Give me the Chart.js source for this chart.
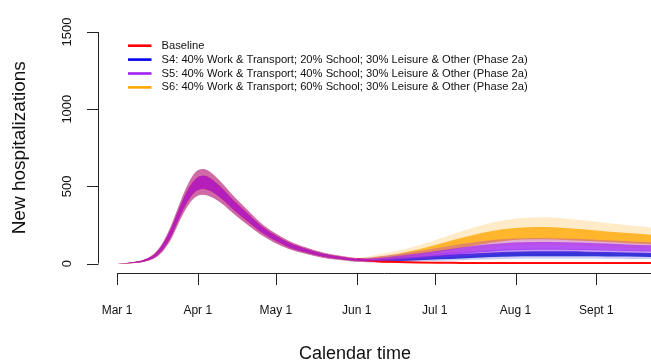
<!DOCTYPE html>
<html><head><meta charset="utf-8">
<script src="https://cdn.jsdelivr.net/npm/chart.js@4.4.1/dist/chart.umd.min.js"></script>
<style>html,body{margin:0;padding:0;background:#fff;} canvas{display:block;}</style>
</head><body>
<canvas id="c" width="651" height="363"></canvas>
<script>
// ---- labels ----
const scenarioNames = [
  "Baseline",
  "S4: 40% Work & Transport; 20% School; 30% Leisure & Other (Phase 2a)",
  "S5: 40% Work & Transport; 40% School; 30% Leisure & Other (Phase 2a)",
  "S6: 40% Work & Transport; 60% School; 30% Leisure & Other (Phase 2a)"
];
const xTickDays = [0, 31, 61, 92, 122, 153, 184, 214];
const xTickLabels = ["Mar 1", "Apr 1", "May 1", "Jun 1", "Jul 1", "Aug 1", "Sept 1", "Oct 1"];
const yTickValues = [0, 500, 1000, 1500];
const yTickLabels = ["0", "500", "1000", "1500"];
const xTitle = "Calendar time";
const yTitle = "New hospitalizations";

// ---- shared epidemic wave (days since Mar 1), ensemble envelope ----
const epiDays = [0, 4, 8, 12, 15, 18, 21, 24, 27, 30, 33, 36, 40, 45, 50, 55, 60, 66, 72, 79, 85, 92];
const epiLo = [0, 1, 5, 18, 40, 88, 165, 275, 370, 430, 445, 432, 392, 320, 253, 190, 140, 94, 65, 38, 24, 12];
const epiQ1 = [0, 2, 7, 22, 48, 100, 185, 300, 400, 465, 485, 470, 423, 345, 275, 208, 155, 106, 75, 46, 31, 18];
const epiQ3 = [0, 4, 13, 34, 68, 136, 235, 360, 470, 545, 568, 550, 493, 405, 325, 248, 189, 134, 97, 64, 45, 30];
const epiHi = [0, 5, 15, 38, 76, 148, 255, 385, 505, 590, 612, 590, 527, 432, 348, 266, 204, 146, 107, 72, 52, 36];

// ---- scenario tails after Phase 2a ----
const tailDays = [100, 108, 116, 124, 132, 140, 148, 156, 164, 172, 180, 188, 196, 205];

const baseLo = [6, 4, 2, 1, 1, 0, 0, 0, 0, 0, 0, 0, 0, 0];
const baseQ1 = [9, 6, 4, 3, 2, 1, 1, 1, 1, 1, 1, 1, 1, 1];
const baseQ3 = [15, 10, 7, 5, 4, 3, 3, 3, 3, 3, 3, 3, 3, 3];
const baseHi = [20, 14, 10, 8, 6, 5, 5, 5, 5, 5, 5, 5, 5, 5];

const s4Lo = [8, 11, 14, 18, 22, 26, 30, 32, 33, 33, 32, 31, 30, 29];
const s4Q1 = [13, 17, 22, 27, 33, 39, 44, 47, 48, 48, 47, 46, 45, 43];
const s4Q3 = [28, 36, 44, 53, 61, 68, 74, 78, 79, 79, 77, 75, 72, 69];
const s4Hi = [36, 46, 56, 66, 76, 85, 92, 96, 97, 96, 94, 91, 88, 84];

const s5Lo = [14, 20, 27, 36, 46, 56, 65, 70, 72, 72, 70, 68, 65, 62];
const s5Q1 = [20, 28, 38, 50, 62, 73, 83, 88, 90, 89, 87, 84, 81, 78];
const s5Q3 = [36, 50, 66, 85, 104, 120, 132, 138, 140, 138, 134, 129, 124, 118];
const s5Hi = [46, 62, 82, 104, 126, 145, 158, 163, 165, 162, 157, 151, 145, 138];

const s6Lo = [18, 26, 38, 55, 75, 95, 112, 122, 124, 120, 114, 108, 103, 98];
const s6Q1 = [26, 38, 54, 76, 100, 125, 145, 155, 157, 153, 146, 139, 132, 125];
const s6Q3 = [44, 64, 92, 128, 165, 198, 222, 234, 236, 230, 220, 208, 197, 186];
const s6Hi = [58, 84, 118, 162, 208, 248, 278, 295, 300, 292, 278, 262, 248, 234];

// ---- build ----
const allDays = epiDays.concat(tailDays);
function pts(a, b) { const v = a.concat(b); return allDays.map((d, i) => ({x: d, y: v[i]})); }

const colors = {
  red: [255, 0, 0], blue: [0, 0, 205], purple: [160, 32, 240], orange: [255, 165, 0]
};
const legendColors = ["#ff0000", "#0000ee", "#a020f0", "#ffa500"];
function rgba(c, a) { return `rgba(${c[0]},${c[1]},${c[2]},${a})`; }

// rank 0 = drawn on top
const scenarios = [
  {c: colors.red,    rank: 1, lo: baseLo, q1: baseQ1, q3: baseQ3, hi: baseHi, aO: 0.3, aI: 0.7, line: true},
  {c: colors.blue,   rank: 3, lo: s4Lo, q1: s4Q1, q3: s4Q3, hi: s4Hi, aO: 0.2, aI: 0.75},
  {c: colors.purple, rank: 0, lo: s5Lo, q1: s5Q1, q3: s5Q3, hi: s5Hi, aO: 0.3, aI: 0.68},
  {c: colors.orange, rank: 2, lo: s6Lo, q1: s6Q1, q3: s6Q3, hi: s6Hi, aO: 0.22, aI: 0.78}
];

const datasets = [];
scenarios.forEach(s => {
  const common = {pointRadius: 0, borderWidth: 0, cubicInterpolationMode: 'monotone', borderColor: 'transparent'};
  datasets.push(Object.assign({}, common, {data: pts(epiHi, s.hi), fill: '+1', backgroundColor: rgba(s.c, s.aO), order: s.rank * 10 + 5}));
  datasets.push(Object.assign({}, common, {data: pts(epiLo, s.lo), fill: false, order: s.rank * 10 + 5}));
  const inner = Object.assign({}, common, {data: pts(epiQ3, s.q3), fill: '+1', backgroundColor: rgba(s.c, s.aI), order: s.rank * 10 + 1});
  if (s.line) {
    inner.borderWidth = 2;
    inner.segment = {borderColor: ctx => ctx.p0.parsed.x >= 92 ? 'rgba(255,0,0,0.95)' : 'transparent'};
  }
  datasets.push(inner);
  datasets.push(Object.assign({}, common, {data: pts(epiQ1, s.q1), fill: false, order: s.rank * 10 + 1}));
});

const FONT = '"Liberation Sans", Arial, Helvetica, sans-serif';

const axesPlugin = {
  id: 'rAxes',
  afterDraw(chart) {
    const ctx = chart.ctx, xs = chart.scales.x, ys = chart.scales.y;
    ctx.save();
    ctx.strokeStyle = '#222'; ctx.lineWidth = 1; ctx.fillStyle = '#111';
    // y axis
    const ax = Math.round(chart.chartArea.left) + 0.5;
    const y0 = ys.getPixelForValue(yTickValues[0]), y1 = ys.getPixelForValue(yTickValues[yTickValues.length - 1]);
    ctx.beginPath(); ctx.moveTo(ax, y0); ctx.lineTo(ax, y1); ctx.stroke();
    ctx.font = '13px ' + FONT; ctx.textAlign = 'center'; ctx.textBaseline = 'middle';
    yTickValues.forEach((v, i) => {
      const py = Math.round(ys.getPixelForValue(v)) + 0.5;
      ctx.beginPath(); ctx.moveTo(ax, py); ctx.lineTo(ax - 11.5, py); ctx.stroke();
      ctx.save(); ctx.translate(67, ys.getPixelForValue(v)); ctx.rotate(-Math.PI / 2);
      ctx.fillText(yTickLabels[i], 0, 0); ctx.restore();
    });
    // x axis
    const ay = Math.round(chart.chartArea.bottom) + 0.5;
    const xa = xs.getPixelForValue(xTickDays[0]);
    ctx.beginPath(); ctx.moveTo(xa, ay); ctx.lineTo(xs.getPixelForValue(xTickDays[xTickDays.length - 1]), ay); ctx.stroke();
    ctx.font = '12px ' + FONT;
    xTickDays.forEach((d, i) => {
      const px = Math.round(xs.getPixelForValue(d)) + 0.5;
      ctx.beginPath(); ctx.moveTo(px, ay); ctx.lineTo(px, ay + 11.5); ctx.stroke();
      ctx.fillText(xTickLabels[i], xs.getPixelForValue(d), 310.5);
    });
    // titles
    ctx.font = '18px ' + FONT;
    ctx.fillText(xTitle, 355, 354.5);
    ctx.font = '19px ' + FONT;
    ctx.save(); ctx.translate(19.5, (chart.chartArea.top + chart.chartArea.bottom) / 2); ctx.rotate(-Math.PI / 2);
    ctx.fillText(yTitle, 0, 0); ctx.restore();
    // legend
    ctx.font = '11.2px ' + FONT; ctx.textAlign = 'left';
    const rowsY = [45.7, 59.6, 73.5, 87.4];
    scenarioNames.forEach((n, i) => {
      ctx.strokeStyle = legendColors[i]; ctx.lineWidth = 2.6;
      ctx.beginPath(); ctx.moveTo(128, rowsY[i]); ctx.lineTo(151.5, rowsY[i]); ctx.stroke();
      ctx.fillStyle = '#111';
      ctx.fillText(n, 161.5, rowsY[i]);
    });
    ctx.restore();
  }
};

new Chart(document.getElementById('c'), {
  type: 'line',
  data: {datasets},
  options: {
    responsive: false, animation: false, devicePixelRatio: 1,
    layout: {padding: {left: 98, right: 0, top: 22.7, bottom: 90.2}},
    plugins: {legend: {display: false}, tooltip: {enabled: false}, filler: {propagate: false}},
    scales: {
      x: {type: 'linear', min: -7.29, max: 205, display: false},
      y: {type: 'linear', min: -60, max: 1560, display: false}
    }
  },
  plugins: [axesPlugin]
});
</script>
</body></html>
